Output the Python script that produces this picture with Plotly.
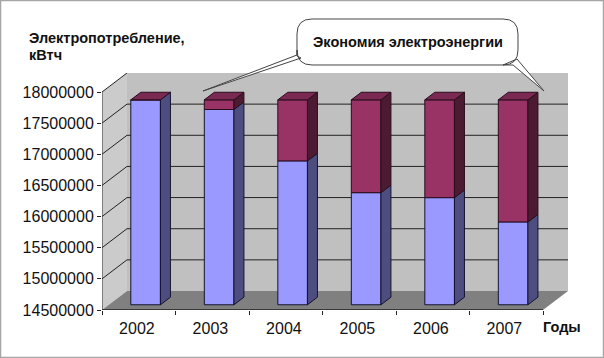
import plotly.graph_objects as go

years = ["2002", "2003", "2004", "2005", "2006", "2007"]
consumption = [17790000, 17635000, 16810000, 16300000, 16220000, 15830000]
savings = [0, 155000, 980000, 1490000, 1570000, 1960000]
y_ticks = [14500000, 15000000, 15500000, 16000000, 16500000, 17000000, 17500000, 18000000]

W, H = 604, 358
L, R, T, B = 102, 36, 73, 48
YMIN, YMAX = y_ticks[0], y_ticks[-1]
DX, DY = 0.34, 305000          # chart depth in axis units
BAR_W = 0.403
FRONT = 0.275                  # bar front plane within depth
SIDE = 0.40                    # bar depth within chart depth

BLUE, BLUE_SIDE = "#9999FF", "#4D4D80"
PURPLE, PURPLE_SIDE, PURPLE_TOP = "#993366", "#4D1A33", "#7A2952"
EDGE = "#14142e"
INK = "#111111"
FONT = "Liberation Sans"

fig = go.Figure()
idx = list(range(len(years)))
fx = FRONT * DX
fy = FRONT * DY
sx = SIDE * DX
sy = SIDE * DY


def px_x(p):
    return (p - L) / (W - L - R)


def px_y(p):
    return 1 - (p - T) / (H - T - B)


shapes = []


def poly(xs, ys, fill, line="rgba(0,0,0,0)", width=0, layer="below"):
    path = "M" + " L".join(f"{a},{b}" for a, b in zip(xs, ys)) + " Z"
    shapes.append(dict(type="path", path=path, xref="x", yref="y", fillcolor=fill,
                       line=dict(color=line, width=width), layer=layer))


def seg(x0, y0, x1, y1, color="#222222", width=1):
    shapes.append(dict(type="line", xref="x", yref="y", x0=x0, y0=y0, x1=x1, y1=y1,
                       line=dict(color=color, width=width), layer="below"))


x0, x1 = -0.5, len(years) - 0.5
# back wall, side wall, floor
poly([x0 + DX, x1 + DX, x1 + DX, x0 + DX], [YMIN + DY, YMIN + DY, YMAX + DY, YMAX + DY], "#C0C0C0")
poly([x0, x0 + DX, x0 + DX, x0], [YMIN, YMIN + DY, YMAX + DY, YMAX], "#CBCBCB")
poly([x0, x1, x1 + DX, x0 + DX], [YMIN, YMIN, YMIN + DY, YMIN + DY], "#808080")
for v in y_ticks[1:-1]:
    seg(x0 + DX, v + DY, x1 + DX, v + DY)
for v in y_ticks[1:]:
    seg(x0, v, x0 + DX, v + DY)
seg(x0, YMIN, x0, YMAX, "#333333")
seg(x0, YMIN, x1, YMIN, "#222222", 1.3)

# front faces
fig.add_bar(x=[i + fx for i in idx], y=[c - YMIN for c in consumption], base=[YMIN + fy] * 6,
            width=BAR_W, marker=dict(color=BLUE, line=dict(color=EDGE, width=1)), name="consumption")
fig.add_bar(x=[i + fx for i in idx], y=savings, base=[c + fy for c in consumption],
            width=BAR_W, marker=dict(color=PURPLE, line=dict(color="#2a0d1c", width=1)), name="savings")


def face(xs, ys, fill, edge):
    fig.add_scatter(x=xs, y=ys, mode="lines", fill="toself", fillcolor=fill,
                    line=dict(color=edge, width=1), hoverinfo="skip")


for i, c, s in zip(idx, consumption, savings):
    xl = i + fx - BAR_W / 2
    xr = i + fx + BAR_W / 2
    low = YMIN + fy
    mid = c + fy
    top = c + s + fy
    face([xr, xr + sx, xr + sx, xr, xr], [low, low + sy, mid + sy, mid, low], BLUE_SIDE, EDGE)
    if s > 0:
        face([xr, xr + sx, xr + sx, xr, xr], [mid, mid + sy, top + sy, top, mid], PURPLE_SIDE, "#2a0d1c")
    face([xl, xr, xr + sx, xl + sx, xl], [top, top, top + sy, top + sy, top], PURPLE_TOP, "#2a0d1c")

# callout (page pixels)
def P(x, y):
    return f"{px_x(x):.5f},{px_y(y):.5f}"


bl, bt, br, bb, r = 297, 19, 518, 65, 15
callout = (
    f"M{P(bl + r, bt)} L{P(br - r, bt)} Q{P(br, bt)} {P(br, bt + r)} L{P(br, bb - r)} Q{P(br, bb)} {P(br - r, bb)} "
    f"L{P(517, 59)} L{P(544, 91)} L{P(513, 65)} "
    f"L{P(bl + r, bb)} Q{P(bl, bb)} {P(bl, bb - r)} L{P(bl, 55)} L{P(203, 91)} L{P(301, 58)} L{P(bl, 56)} "
    f"L{P(bl, bt + r)} Q{P(bl, bt)} {P(bl + r, bt)} Z"
)
shapes.append(dict(type="path", path=callout, xref="paper", yref="paper", fillcolor="white",
                   line=dict(color="#444444", width=1), layer="above"))
# picture frame
shapes.append(dict(type="rect", xref="paper", yref="paper", x0=px_x(0.5), y0=px_y(357.5), x1=px_x(603.5), y1=px_y(0.5),
                   fillcolor="rgba(0,0,0,0)", line=dict(color="#A6A6A6", width=1.5), layer="above"))


def label(x, y, text, anchor="left", size=14.5):
    return dict(xref="paper", yref="paper", x=px_x(x), y=px_y(y), text=f"<b>{text}</b>", showarrow=False,
                xanchor=anchor, yanchor="middle", xshift=0, align="left",
                font=dict(family=FONT, size=size, color=INK))


annotations = [
    label(26.5, 38, "Электропотребление,"),
    label(26.5, 55, "кВтч"),
    label(408, 42, "Экономия электроэнергии", "center"),
    label(541, 327, "Годы"),
]

fig.update_layout(
    width=W, height=H, margin=dict(l=L, r=R, t=T, b=B, autoexpand=False),
    paper_bgcolor="white", plot_bgcolor="white", showlegend=False, barmode="overlay",
    shapes=shapes, annotations=annotations, font=dict(family=FONT, color=INK),
    xaxis=dict(range=[x0, x1 + DX], tickmode="array", tickvals=[i - 0.025 for i in idx], ticktext=years, ticks="outside",
               tickcolor="rgba(0,0,0,0)", showgrid=False,
               zeroline=False, showline=False, tickfont=dict(size=16, family=FONT, color=INK), ticklen=4,
               minor=dict(tickmode="array", tickvals=[x0 + k for k in range(7)], ticks="outside", ticklen=4,
                          tickcolor="#222222", showgrid=False)),
    yaxis=dict(range=[YMIN, YMAX + DY], tickmode="array", tickvals=y_ticks, ticktext=[str(v) for v in y_ticks],
               ticks="outside", ticklen=4, tickcolor="#222222", showgrid=False, zeroline=False, showline=False,
               tickfont=dict(size=16, family=FONT, color=INK)),
)
fig.write_html("out.html", config={"displayModeBar": False},
               post_script="document.body.style.margin='0';document.body.style.overflow='hidden';")
